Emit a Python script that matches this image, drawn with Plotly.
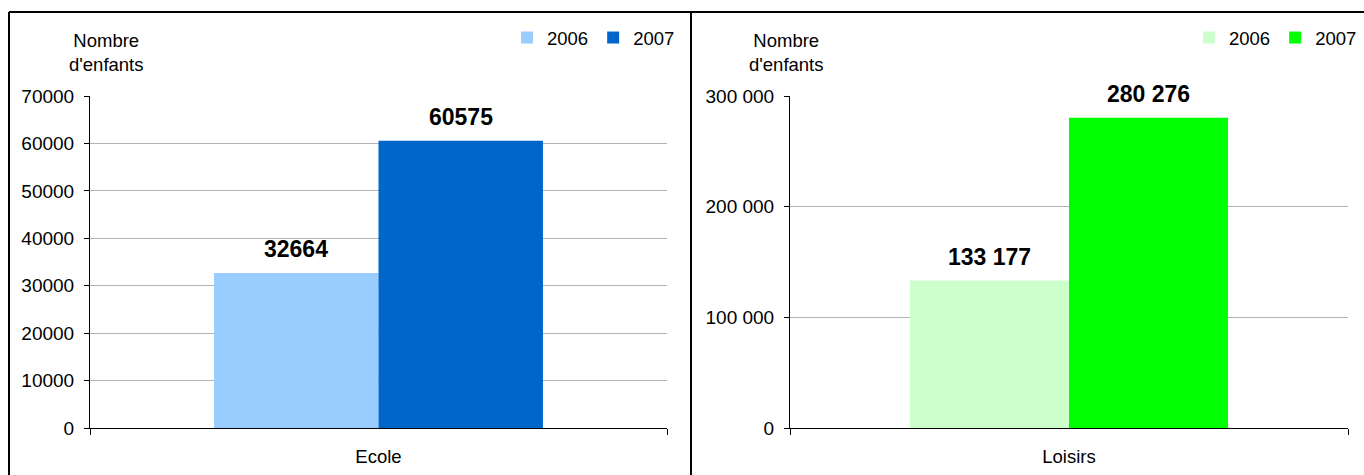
import plotly.graph_objects as go

W, H = 1364, 475

years = ["2006", "2007"]
cat_left = ["Ecole"]
cat_right = ["Loisirs"]
ecole_vals = [32664, 60575]
loisirs_vals = [133177, 280276]
colors_left = ["#99CCFF", "#0066CC"]
colors_right = ["#CCFFCC", "#00FF00"]
left_ticks = [0, 10000, 20000, 30000, 40000, 50000, 60000, 70000]
right_ticks = [0, 100000, 200000, 300000]
ytitle = "Nombre<br>d'enfants"

FONT = "Liberation Sans, Arial, sans-serif"
FS = 18.5
TFS = 19
BARGAP = 0.43

def px(x):
    return x / W

def py(y):
    return 1 - y / H

xl_dom = [px(90), px(667)]
xr_dom = [px(790), px(1348)]
y_dom = [py(428), py(96)]

fig = go.Figure()

for i, yr in enumerate(years):
    fig.add_trace(go.Bar(x=cat_left, y=[ecole_vals[i]], name=yr, marker_color=colors_left[i],
                         marker_line_width=0, xaxis="x", yaxis="y", legend="legend",
                         offsetgroup=str(i)))
for i, yr in enumerate(years):
    fig.add_trace(go.Bar(x=cat_right, y=[loisirs_vals[i]], name=yr, marker_color=colors_right[i],
                         marker_line_width=0, xaxis="x2", yaxis="y2", legend="legend2",
                         offsetgroup=str(i)))

# data labels
annots = []
for dom, cats, vals, xr, yr, fmt in [
    (xl_dom, cat_left, ecole_vals, "x", "y", lambda v: f"{v}"),
    (xr_dom, cat_right, loisirs_vals, "x2", "y2", lambda v: f"{v:,}".replace(",", " ")),
]:
    bw = (dom[1] - dom[0]) * W * (1 - BARGAP) / 2
    for i, v in enumerate(vals):
        annots.append(dict(x=cats[0], y=v, xref=xr, yref=yr, text=f"<b>{fmt(v)}</b>",
                           showarrow=False, xshift=(i - 0.5) * bw, yanchor="bottom", yshift=9,
                           font=dict(size=23, color="black", family=FONT)))

for xc in [106, 786]:
    annots.append(dict(x=px(xc), y=py(53), xref="paper", yref="paper", text=ytitle,
                       showarrow=False, xanchor="center", yanchor="middle",
                       font=dict(size=FS, color="black", family=FONT)))

common_y = dict(showline=True, linecolor="black", linewidth=1, ticks="outside", ticklen=5,
                tickcolor="black", showgrid=True, gridcolor="#B3B3B3", gridwidth=1,
                zeroline=False, tickfont=dict(size=TFS, color="black", family=FONT),
                ticklabelstandoff=6, automargin=False)
common_x = dict(showline=True, linecolor="black", linewidth=1, ticks="outside", ticklen=6,
                tickcolor="black", tickson="boundaries", showgrid=False,
                tickfont=dict(size=FS, color="black", family=FONT), ticklabelstandoff=12,
                automargin=False)

fig.update_layout(
    width=W, height=H,
    margin=dict(l=0, r=0, t=0, b=0, autoexpand=False),
    paper_bgcolor="white", plot_bgcolor="white",
    barmode="group", bargap=BARGAP, bargroupgap=0,
    separators=". ",
    font=dict(family=FONT, size=FS, color="black"),
    xaxis=dict(domain=xl_dom, anchor="y", **common_x),
    yaxis=dict(domain=y_dom, anchor="x", range=[0, 70000], tickvals=left_ticks,
               tickformat="d", **common_y),
    xaxis2=dict(domain=xr_dom, anchor="y2", **common_x),
    yaxis2=dict(domain=y_dom, anchor="x2", range=[0, 300000], tickvals=right_ticks,
                tickformat=",d", **common_y),
    legend=dict(orientation="h", x=px(680), xanchor="right", y=py(38), yanchor="middle",
                bgcolor="rgba(0,0,0,0)", font=dict(size=FS, family=FONT),
                tracegroupgap=0, itemwidth=30),
    legend2=dict(orientation="h", x=px(1362), xanchor="right", y=py(38), yanchor="middle",
                 bgcolor="rgba(0,0,0,0)", font=dict(size=FS, family=FONT),
                 tracegroupgap=0, itemwidth=30),
    annotations=annots,
    shapes=[
        dict(type="line", xref="paper", yref="paper", x0=px(9), x1=1.0, y0=py(12), y1=py(12),
             line=dict(color="black", width=2)),
        dict(type="line", xref="paper", yref="paper", x0=px(9), x1=px(9), y0=py(12), y1=0,
             line=dict(color="black", width=2)),
        dict(type="line", xref="paper", yref="paper", x0=px(691), x1=px(691), y0=py(12), y1=0,
             line=dict(color="black", width=2)),
    ],
)

fig.write_html("out.html", config={"displayModeBar": False},
               post_script="document.body.style.margin='0';document.body.style.overflow='hidden';")
